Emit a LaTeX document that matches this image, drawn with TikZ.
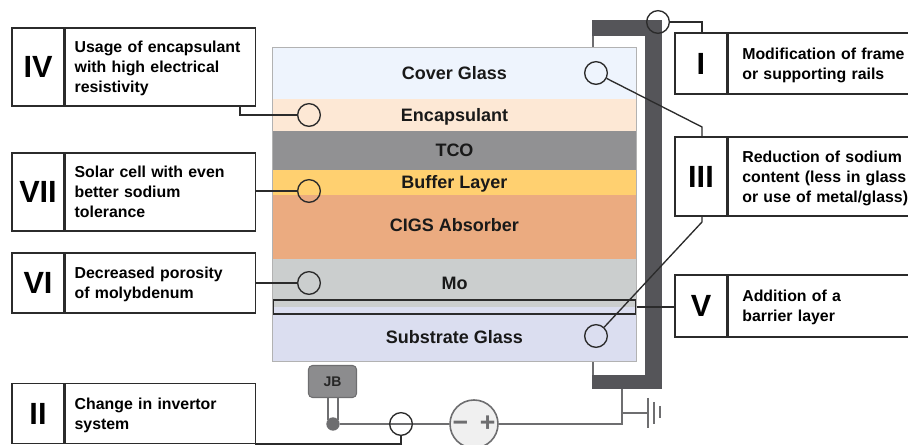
\documentclass[tikz,border=0pt]{standalone}
\usepackage{fontspec}
\setmainfont{Liberation Sans}
\usetikzlibrary{positioning}
\definecolor{framegray}{HTML}{555559}
\definecolor{wiregray}{HTML}{6E6E70}
\definecolor{linedark}{HTML}{2B2B2B}
\tikzset{
    numcell/.style={draw=linedark,line width=1pt,inner sep=0pt,minimum width=39pt,font=\bfseries\fontsize{23}{23}\selectfont},
    txtcell/.style={draw=linedark,line width=1pt,inner ysep=0pt,align=left,anchor=west,font=\bfseries\fontsize{11.9}{15}\selectfont},
    leftcell/.style={txtcell,inner xsep=7pt,text width=128.5pt,minimum width=142.5pt},
    rightcell/.style={txtcell,inner xsep=10.5pt,text width=150pt,minimum width=171pt},
    layer/.style={minimum width=272.25pt,inner sep=0pt,text height=9.5pt,text depth=0pt,font=\bfseries\fontsize{13.5}{14}\selectfont,text=black!90},
    mark circle/.style={circle,draw=linedark,line width=1pt,minimum size=17pt,inner sep=0pt},
    link/.style={draw=linedark,line width=1pt},
    wire/.style={draw=wiregray,line width=1.6pt}
}
\newcommand{\celltop}{\rule{0pt}{12pt}}
\newcommand{\cellend}{\rule[-3pt]{0pt}{3pt}}
\begin{document}
\begin{tikzpicture}[x=0.75pt,y=-0.75pt,semithick]
    \useasboundingbox(0,0)rectangle(908,445);
    % frame
    \fill[framegray](592,20)rectangle(662,36);
    \fill[framegray](645,20)rectangle(662,389);
    \fill[framegray](592,375)rectangle(662,389);
    \draw[wiregray,thick](593,36)--(593,48);
    \draw[wiregray,thick](593,361)--(593,375);
    % layers
    \node[layer,minimum height=38.25pt,fill={rgb,255:red,238;green,244;blue,253}](cover)at(454.5,73.5){Cover Glass};
    \node[layer,minimum height=24pt,fill={rgb,255:red,253;green,232;blue,213}](encap)at(454.5,115){Encapsulant};
    \node[layer,minimum height=29.25pt,fill={rgb,255:red,145;green,145;blue,147}](tco)at(454.5,150.5){TCO};
    \node[layer,minimum height=18.75pt,fill={rgb,255:red,255;green,208;blue,112}](buffer)at(454.5,182.5){Buffer Layer};
    \node[layer,minimum height=48pt,text depth=3pt,fill={rgb,255:red,235;green,171;blue,128}](cigs)at(454.5,227){CIGS Absorber};
    \node[layer,minimum height=36pt,fill={rgb,255:red,203;green,206;blue,206}](mo)at(454.5,283){Mo};
    \node[layer,minimum height=40.5pt,text height=14pt,fill={rgb,255:red,219;green,222;blue,240}](substrate)at(454.5,334){Substrate Glass};
    \node[minimum width=272.25pt,minimum height=10.5pt,inner sep=0pt,draw=linedark,line width=1pt](barrier)at(454.5,307){};
    \draw[gray!60,thin](cover.north west)rectangle(substrate.south east);
    % left boxes
    \node[numcell,minimum height=58.5pt](iv)at(38,67){IV};
    \node[leftcell,minimum height=58.5pt,right=0pt of iv](ivtxt){\celltop Usage of encapsulant\\with high electrical\\resistivity\cellend};
    \node[numcell,minimum height=58.5pt](vii)at(38,192){VII};
    \node[leftcell,minimum height=58.5pt,right=0pt of vii](viitxt){\celltop Solar cell with even\\better sodium\\tolerance\cellend};
    \node[numcell,minimum height=45pt](vi)at(38,283){VI};
    \node[leftcell,minimum height=45pt,right=0pt of vi](vitxt){\celltop Decreased porosity\\of molybdenum\cellend};
    \node[numcell,minimum height=45pt](ii)at(38,413.5){II};
    \node[leftcell,minimum height=45pt,right=0pt of ii](iitxt){\celltop Change in invertor\\system\cellend};
    % right boxes
    \node[numcell,minimum height=45.75pt](i)at(701,63.5){I};
    \node[rightcell,minimum height=45.75pt,right=0pt of i](itxt){\celltop Modification of frame\\or supporting rails\cellend};
    \node[numcell,minimum height=59.25pt](iii)at(701,176.5){III};
    \node[rightcell,minimum height=59.25pt,right=0pt of iii](iiitxt){\celltop Reduction of sodium\\content (less in glass\\or use of metal/glass)\cellend};
    \node[numcell,minimum height=46.5pt](v)at(701,306){V};
    \node[rightcell,minimum height=46.5pt,right=0pt of v](vtxt){\celltop Addition of a\\barrier layer\cellend};
    % wiring
    \node[draw=wiregray,thick,fill={rgb,255:red,140;green,140;blue,142},rounded corners=3pt,minimum width=36pt,minimum height=24pt,inner sep=0pt,text=black!85,font=\bfseries\fontsize{10.5}{10.5}\selectfont](jb)at(332.5,381.5){JB};
    \node[circle,fill=wiregray,minimum size=10pt,inner sep=0pt](dot)at(333,424){};
    \node[circle,draw=wiregray,line width=1.2pt,fill=gray!12,minimum size=36pt,inner sep=0pt,font=\bfseries\fontsize{20}{20}\selectfont,text=wiregray](inverter)at(474,424){−\;\,+};
    \coordinate(gnd)at(622,424);
    \coordinate(gndbar)at(648,413);
    \draw[wire](328,398)--(328,420);
    \draw[wire](338,398)--(338,420);
    \draw[wire](dot)--(inverter);
    \draw[wire](inverter)--(gnd)--(622,389);
    \draw[wire](622,413)--(gndbar);
    \draw[wire](648,398)--(648,428);
    \draw[wire](654,402)--(654,424);
    \draw[wire](660,406)--(660,418);
    % marks
    \node[mark circle](mframe)at(658,22){};
    \node[mark circle](mcover)at(596,73){};
    \node[mark circle](mencap)at(309,115){};
    \node[mark circle](mbuffer)at(309,191){};
    \node[mark circle](mmo)at(309,283){};
    \node[mark circle](msub)at(596,336){};
    \node[mark circle](minv)at(401,424){};
    % connectors
    \draw[link](mframe)-|(702,33);
    \draw[link](mcover)--(702,127)--(702,137);
    \draw[link](702,216)--(702,222)--(msub);
    \draw[link](barrier.east)--(v.west|-barrier.east);
    \draw[link](240,106)|-(mencap);
    \draw[link](viitxt.east|-mbuffer)--(mbuffer);
    \draw[link](vitxt.east|-mmo)--(mmo);
    \draw[link](255,444)-|(minv);
\end{tikzpicture}
\end{document}
